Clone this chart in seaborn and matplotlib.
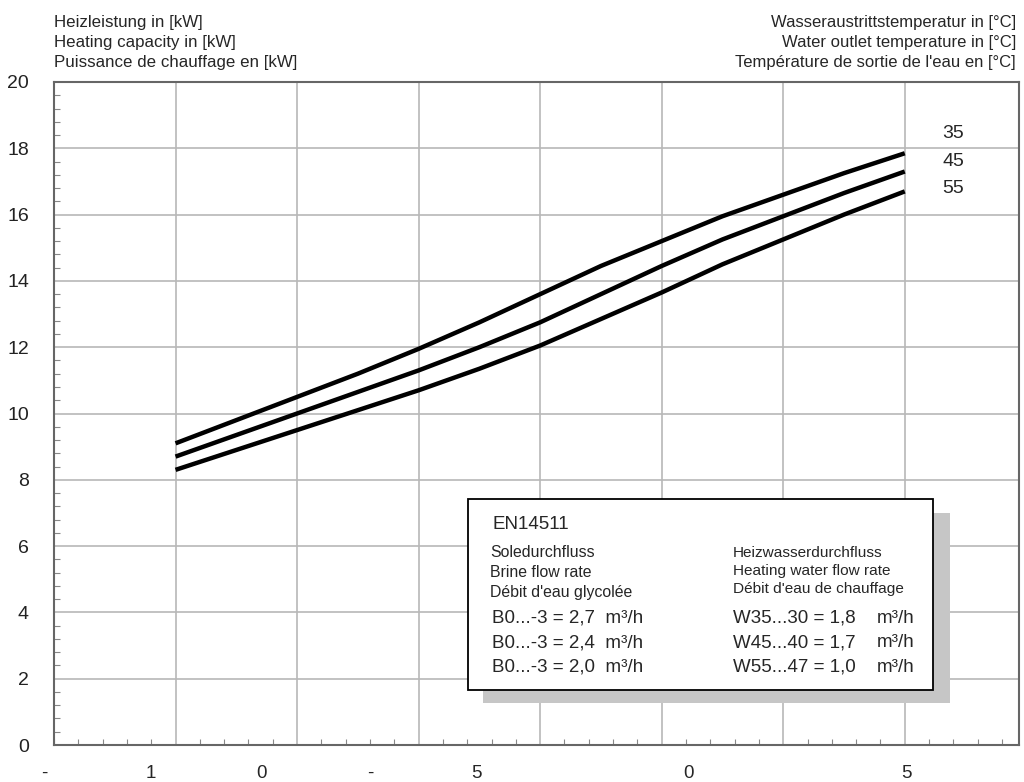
import numpy as np
import pandas as pd
import matplotlib
matplotlib.use("Agg")
import matplotlib.pyplot as plt
from matplotlib.patches import Rectangle
from matplotlib.ticker import MultipleLocator
import seaborn as sns

# brine inlet temperature (grid positions) and heating capacity per water outlet temp
brine_temp = [-15, -12.5, -10, -7.5, -5, -2.5, 0, 2.5, 5, 7.5, 10, 12.5, 15]
cap_w35 = [9.1, 9.8, 10.5, 11.2, 11.95, 12.75, 13.6, 14.45, 15.2, 15.95, 16.6, 17.25, 17.85]
cap_w45 = [8.7, 9.35, 10.0, 10.65, 11.3, 12.0, 12.75, 13.6, 14.45, 15.25, 15.95, 16.65, 17.3]
cap_w55 = [8.3, 8.9, 9.5, 10.1, 10.7, 11.35, 12.05, 12.85, 13.65, 14.5, 15.25, 16.0, 16.7]
series_names = ["35", "45", "55"]

# x tick labels as they appear (garbled) and where they sit
xlabel_text = ["-", "1", "0", "-", "5", "0", "5"]
xlabel_pos = [-20.4, -16.0, -11.45, -7.0, -2.6, 6.1, 15.05]

left_header = ["Heizleistung in [kW]", "Heating capacity in [kW]",
               "Puissance de chauffage en [kW]"]
right_header = ["Wasseraustrittstemperatur in [°C]", "Water outlet temperature in [°C]",
                "Température de sortie de l'eau en [°C]"]

box_title = "EN14511"
brine_lines = ["Soledurchfluss", "Brine flow rate", "Débit d'eau glycolée"]
water_lines = ["Heizwasserdurchfluss", "Heating water flow rate", "Débit d'eau de chauffage"]
brine_flows = ["B0...-3 = 2,7  m³/h", "B0...-3 = 2,4  m³/h", "B0...-3 = 2,0  m³/h"]
water_flows = ["W35...30 = 1,8", "W45...40 = 1,7", "W55...47 = 1,0"]
flow_unit = "m³/h"

df = pd.DataFrame({
    "x": brine_temp * 3,
    "y": cap_w35 + cap_w45 + cap_w55,
    "s": [n for n in series_names for _ in brine_temp],
})

sns.set_theme(style="white")
plt.rcParams["font.family"] = ["Liberation Sans", "DejaVu Sans"]

fig = plt.figure(figsize=(10.24, 7.82), dpi=100)
ax = fig.add_axes([54 / 1024, 37 / 782, 965 / 1024, 663 / 782])

sns.lineplot(data=df, x="x", y="y", hue="s", palette=["black"] * 3,
             linewidth=3.2, legend=False, ax=ax, zorder=3,
             solid_joinstyle="round", solid_capstyle="butt")

ax.set_xlim(-20, 19.7)
ax.set_ylim(0, 20)
ax.set_xticks(np.arange(-15, 20, 5))
ax.set_xticklabels([])
ax.set_yticks(np.arange(0, 21, 2))
ax.yaxis.set_minor_locator(MultipleLocator(0.4))
ax.xaxis.set_minor_locator(MultipleLocator(1))
ax.tick_params(axis="both", which="major", length=0, labelsize=14, pad=18, colors="#222222")
ax.tick_params(axis="both", which="minor", direction="in", length=4, width=0.8,
               color="#888888", left=True, bottom=True)
ax.grid(True, which="major", color="#b8b8b8", linewidth=1.2)
ax.set_xlabel("")
ax.set_ylabel("")
for sp in ax.spines.values():
    sp.set_color("#666666")
    sp.set_linewidth(1.5)

for t, p in zip(xlabel_text, xlabel_pos):
    ax.text(p, -0.85, t, ha="center", va="center", fontsize=13.5, clip_on=False)

for i, t in enumerate(left_header):
    fig.text(54 / 1024, 1 - (22 + 20.5 * i) / 782, t, ha="left", va="center", fontsize=12.2)
for i, t in enumerate(right_header):
    fig.text(1016 / 1024, 1 - (22 + 20.5 * i) / 782, t, ha="right", va="center", fontsize=12)

for name, yv in zip(series_names, [18.46, 17.59, 16.8]):
    ax.text(17.0, yv, name, ha="center", va="center", fontsize=14)

# info box with drop shadow
ax.add_patch(Rectangle((-2.35, 1.27), 19.22, 5.73, facecolor="#c6c6c6",
                       edgecolor="none", zorder=4))
ax.add_patch(Rectangle((-2.96, 1.66), 19.13, 5.76, facecolor="white",
                       edgecolor="black", linewidth=1.3, zorder=5))
ax.text(-1.98, 6.64, box_title, fontsize=13.5, va="center", zorder=6)
for t, yv in zip(brine_lines, [5.82, 5.2, 4.59]):
    ax.text(-2.06, yv, t, fontsize=11.4, va="center", zorder=6)
for t, yv in zip(water_lines, [5.8, 5.25, 4.71]):
    ax.text(7.94, yv, t, fontsize=11.1, va="center", zorder=6)
for i, yv in enumerate([3.83, 3.08, 2.35]):
    ax.text(-1.98, yv, brine_flows[i], fontsize=13.5, va="center", zorder=6)
    ax.text(7.94, yv, water_flows[i], fontsize=13.5, va="center", zorder=6)
    ax.text(13.87, yv, flow_unit, fontsize=13.5, va="center", zorder=6)

fig.savefig("out.png", dpi=100)
